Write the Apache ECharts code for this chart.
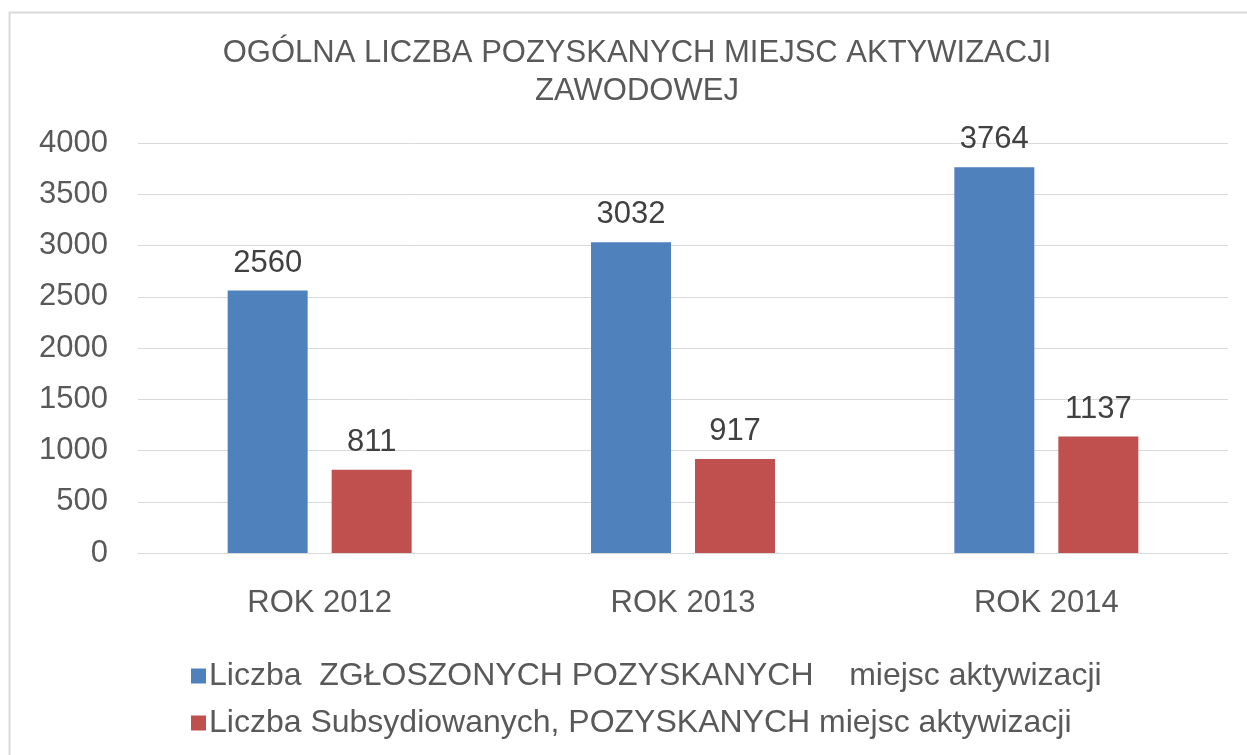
<!DOCTYPE html>
<html><head><meta charset="utf-8">
<script src="https://cdn.jsdelivr.net/npm/echarts@6/dist/echarts.min.js"></script>
<style>html,body{margin:0;padding:0;background:#fff}#c{width:1247px;height:755px}</style>
</head><body><div id="c"></div>
<script>
const categories = ['ROK 2012', 'ROK 2013', 'ROK 2014'];
const seriesNames = ['Liczba  ZGŁOSZONYCH POZYSKANYCH    miejsc aktywizacji', 'Liczba Subsydiowanych, POZYSKANYCH miejsc aktywizacji'];
const reported = [2560, 3032, 3764];
const subsidised = [811, 917, 1137];
const yTicks = [0, 500, 1000, 1500, 2000, 2500, 3000, 3500, 4000];

const chart = echarts.init(document.getElementById('c'));
const font = '"Liberation Sans", Arial, sans-serif';
chart.setOption({
  animation: false,
  textStyle: { fontFamily: font },
  graphic: [{ type: 'rect', shape: { x: 9.5, y: 12.5, width: 1260, height: 760 }, style: { fill: 'none', stroke: '#d9d9d9', lineWidth: 2 } }],
  title: {
    text: 'OGÓLNA LICZBA POZYSKANYCH MIEJSC AKTYWIZACJI\nZAWODOWEJ',
    left: 632, textAlign: 'center', top: 29,
    textStyle: { fontFamily: font, fontSize: 31, fontWeight: 'normal', color: '#595959', lineHeight: 38 }
  },
  legend: {
    orient: 'vertical', left: 186, top: 655, itemGap: 15, itemWidth: 15, itemHeight: 15,
    icon: 'rect', textStyle: { fontFamily: font, fontSize: 32, color: '#595959', padding: [0, 0, 0, -2] }
  },
  grid: { left: 138, right: 19, top: 143, bottom: 202 },
  xAxis: {
    type: 'category', data: categories,
    axisLine: { lineStyle: { color: '#d9d9d9' } }, axisTick: { show: false },
    axisLabel: { fontFamily: font, fontSize: 31, color: '#595959', margin: 35 }
  },
  yAxis: {
    type: 'value', min: 0, max: 4000, interval: 500,
    axisLine: { show: false }, axisTick: { show: false },
    splitLine: { lineStyle: { color: '#d9d9d9' } },
    axisLabel: { fontFamily: font, fontSize: 31, color: '#595959', margin: 30,
      formatter: v => yTicks.includes(v) ? String(v) : '' }
  },
  series: [
    { name: seriesNames[0], type: 'bar', data: reported, barWidth: 80, barGap: '30%', itemStyle: { color: '#4f81bd' },
      label: { show: true, position: 'top', distance: 12, fontFamily: font, fontSize: 31, color: '#404040' } },
    { name: seriesNames[1], type: 'bar', data: subsidised, barWidth: 80, itemStyle: { color: '#c0504d' },
      label: { show: true, position: 'top', distance: 12, fontFamily: font, fontSize: 31, color: '#404040' } }
  ]
});
</script></body></html>
